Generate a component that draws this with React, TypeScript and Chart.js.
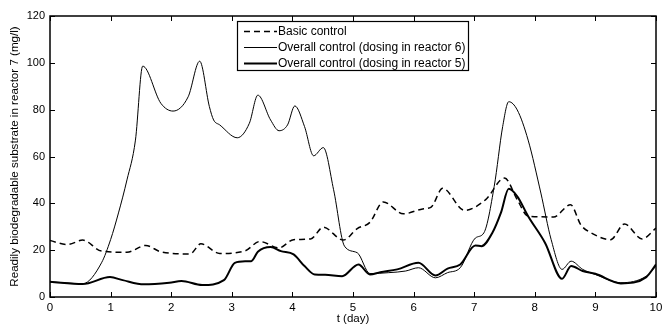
import React, { useEffect, useRef } from "react";
import { Chart, registerables } from "chart.js";

Chart.register(...registerables);

const basicT = [0, 0.29, 0.54, 0.85, 1.27, 1.58, 1.83, 2.31, 2.49, 2.8, 3.22, 3.46, 3.78, 4.02, 4.3, 4.51, 4.84, 5.07, 5.28, 5.5, 5.83, 6.15, 6.29, 6.48, 6.84, 7.19, 7.5, 7.71, 7.89, 8.31, 8.59, 8.76, 8.93, 9.25, 9.48, 9.77, 10];
const basicY = [24.1, 22.4, 24.3, 19.6, 19.1, 22, 19.3, 18.4, 22.7, 18.6, 19.7, 23.7, 21, 24.5, 24.8, 29.8, 24.3, 29.2, 31.9, 40.6, 35.5, 37.6, 38.4, 46.4, 37, 41.6, 50.8, 41.6, 34.5, 34.2, 39.4, 30.8, 27.4, 24.5, 31.2, 24.8, 29.4];

const r6T = [0, 0.54, 0.85, 1.0, 1.13, 1.27, 1.41, 1.53, 1.83, 2.03, 2.28, 2.47, 2.63, 2.7, 2.8, 3.09, 3.29, 3.43, 3.64, 3.78, 3.92, 4.04, 4.2, 4.35, 4.51, 4.68, 4.86, 5.07, 5.28, 5.59, 5.87, 6.08, 6.36, 6.56, 6.77, 7.02, 7.16, 7.33, 7.47, 7.57, 7.71, 7.89, 8.1, 8.27, 8.45, 8.6, 8.79, 9.0, 9.42, 9.84, 10];
const r6Y = [6.5, 5.7, 14.6, 24.5, 35.9, 50, 67, 98.6, 82.7, 79.4, 85.5, 100.7, 81.3, 75.6, 73.5, 68, 74.2, 86.2, 75.6, 71, 73.5, 81.6, 72.8, 60.3, 63.8, 45.8, 21.7, 18.9, 10, 10.4, 11.1, 12.5, 8.2, 10.4, 12.5, 25.2, 27.4, 47.2, 72.8, 83.4, 79.9, 67, 44.4, 24.5, 11.8, 15.3, 11.8, 9.6, 6.1, 8.9, 13.2];

const r5T = [0, 0.54, 0.99, 1.2, 1.55, 1.97, 2.17, 2.51, 2.87, 3.05, 3.22, 3.32, 3.43, 3.64, 3.81, 4.02, 4.2, 4.37, 4.54, 4.82, 5.09, 5.28, 5.45, 5.73, 6.08, 6.36, 6.56, 6.77, 7.02, 7.12, 7.3, 7.44, 7.57, 7.71, 7.89, 8.17, 8.45, 8.6, 8.79, 9.0, 9.42, 9.84, 10];
const r5Y = [6.5, 5.5, 8.5, 7.2, 5.4, 6.1, 6.8, 5.1, 7.2, 14.6, 15.3, 15.3, 19.3, 21.3, 19.6, 18.2, 13.2, 9.6, 9.5, 8.9, 13.9, 9.6, 10.6, 11.8, 14.6, 9.2, 12.1, 13.9, 22, 21.7, 27.4, 35.9, 46.2, 43, 34.5, 23.1, 7.8, 13.2, 11.1, 9.9, 5.8, 8.5, 13.9];

const xTicks = [0, 1, 2, 3, 4, 5, 6, 7, 8, 9, 10];
const yTicks = [0, 20, 40, 60, 80, 100, 120];
const seriesLabels = ["Basic control", "Overall control (dosing in reactor 6)", "Overall control (dosing in reactor 5)"];
const xTitle = "t (day)";
const yTitle = "Readily biodegradable substrate in reactor 7 (mg/l)";

const FONT = '"Liberation Sans", Arial, sans-serif';

const toPts = (t: number[], y: number[]) => t.map((v, i) => ({ x: v, y: y[i] }));

const framePlugin = {
  id: "frame",
  afterDatasetsDraw(chart: any) {
    const { ctx, chartArea: a, scales } = chart;
    ctx.save();
    ctx.strokeStyle = "#000";
    ctx.lineWidth = 1.5;
    const L = Math.round(a.left), T = Math.round(a.top), R = Math.round(a.right), B = Math.round(a.bottom);
    ctx.strokeRect(L, T, R - L, B - T);
    ctx.lineWidth = 1;
    const tl = 5;
    ctx.beginPath();
    xTicks.forEach((v) => {
      const px = Math.round(scales.x.getPixelForValue(v)) + 0.5;
      ctx.moveTo(px, B);
      ctx.lineTo(px, B - tl);
      ctx.moveTo(px, T);
      ctx.lineTo(px, T + tl);
    });
    yTicks.forEach((v) => {
      const py = Math.round(scales.y.getPixelForValue(v)) + 0.5;
      ctx.moveTo(L, py);
      ctx.lineTo(L + tl, py);
      ctx.moveTo(R, py);
      ctx.lineTo(R - tl, py);
    });
    ctx.stroke();

    // legend
    const lx = 237, ly = 21, lw = 231, lh = 49;
    ctx.fillStyle = "#fff";
    ctx.fillRect(lx, ly, lw, lh);
    ctx.lineWidth = 1.2;
    ctx.strokeRect(lx + 0.5, ly + 0.5, lw, lh);
    ctx.font = "12px " + FONT;
    ctx.textBaseline = "middle";
    ctx.textAlign = "left";
    chart.data.datasets.forEach((ds: any, i: number) => {
      const y = ly + 10.5 + i * 16;
      ctx.beginPath();
      ctx.lineWidth = ds.borderWidth;
      ctx.setLineDash(ds.borderDash || []);
      ctx.moveTo(lx + 7, y);
      ctx.lineTo(lx + 40, y);
      ctx.stroke();
      ctx.setLineDash([]);
      ctx.fillStyle = "#000";
      ctx.fillText(ds.label, lx + 41, y + 0.5);
    });
    ctx.restore();
  },
};

export default function App() {
  const ref = useRef<HTMLCanvasElement>(null);
  useEffect(() => {
    document.body.style.margin = "0";
    const chart = new Chart(ref.current!, {
      type: "line",
      data: {
        datasets: [
          { label: seriesLabels[0], data: toPts(basicT, basicY), borderColor: "#000", borderWidth: 1.5, borderDash: [6, 4], pointRadius: 0, cubicInterpolationMode: "monotone" } as any,
          { label: seriesLabels[1], data: toPts(r6T, r6Y), borderColor: "#000", borderWidth: 1, pointRadius: 0, cubicInterpolationMode: "monotone" } as any,
          { label: seriesLabels[2], data: toPts(r5T, r5Y), borderColor: "#000", borderWidth: 2, pointRadius: 0, cubicInterpolationMode: "monotone" } as any,
        ],
      },
      options: {
        animation: false,
        responsive: false,
        maintainAspectRatio: false,
        layout: { padding: { left: 8, right: 7, top: 16, bottom: 0 } },
        plugins: { legend: { display: false }, tooltip: { enabled: false } },
        scales: {
          x: {
            type: "linear",
            min: 0,
            max: 10,
            afterBuildTicks: (s: any) => { s.ticks = xTicks.map((v) => ({ value: v })); },
            grid: { display: false, drawTicks: false },
            border: { display: false },
            ticks: { color: "#000", font: { family: FONT, size: 11.5 }, padding: 4, maxRotation: 0 },
            title: { display: true, text: xTitle, color: "#000", font: { family: FONT, size: 11.5 }, padding: { top: 0, bottom: 0 } },
            afterFit: (s: any) => { s.height = 29; s.paddingLeft = 0; s.paddingRight = 0; },
          },
          y: {
            min: 0,
            max: 120,
            afterBuildTicks: (s: any) => { s.ticks = yTicks.map((v) => ({ value: v })); },
            grid: { display: false, drawTicks: false },
            border: { display: false },
            ticks: { color: "#000", font: { family: FONT, size: 11 }, padding: 5 },
            title: { display: true, text: yTitle, color: "#000", font: { family: FONT, size: 11.6 }, padding: { top: 0, bottom: 0 } },
            afterFit: (s: any) => { s.width = 42; s.paddingTop = 0; s.paddingBottom = 0; },
          },
        },
      },
      plugins: [framePlugin],
    });
    return () => chart.destroy();
  }, []);
  return (
    <div style={{ position: "absolute", left: 0, top: 0, width: 663, height: 326, background: "#fff" }}>
      <canvas ref={ref} width={663} height={326} />
    </div>
  );
}
